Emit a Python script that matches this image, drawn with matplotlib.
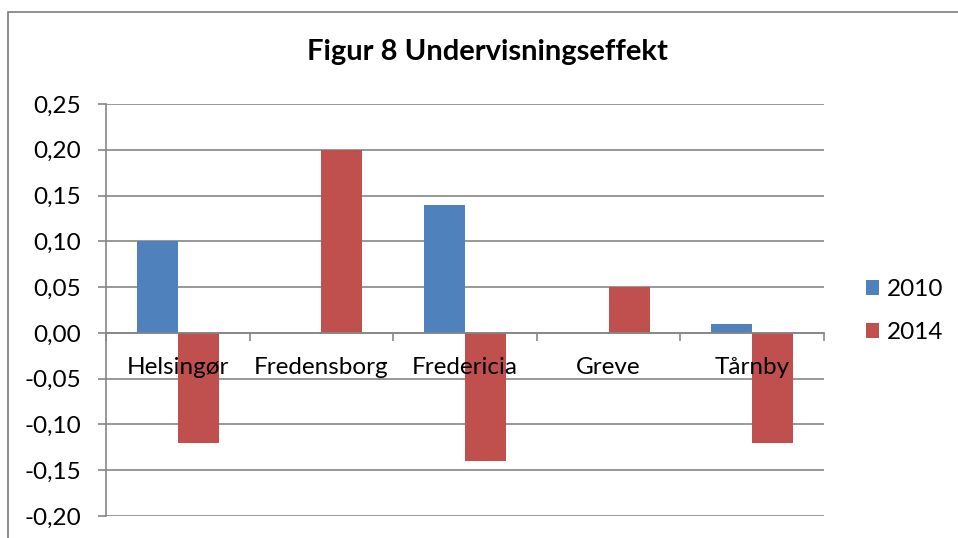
import matplotlib
matplotlib.use("Agg")
import matplotlib.pyplot as plt
from matplotlib.patches import Rectangle
import numpy as np

categories = ["Helsingør", "Fredensborg", "Fredericia", "Greve", "Tårnby"]
series_names = ["2010", "2014"]
values_2010 = [0.10, 0.0, 0.14, 0.0, 0.01]
values_2014 = [-0.12, 0.20, -0.14, 0.05, -0.12]
yticks = [-0.20, -0.15, -0.10, -0.05, 0.00, 0.05, 0.10, 0.15, 0.20, 0.25]
title = "Figur 8 Undervisningseffekt"

plt.rcParams['font.family'] = ['Lato', 'DejaVu Sans']

fig = plt.figure(figsize=(9.58, 5.38), dpi=100)
ax = fig.add_axes([106/958, 1-516/538, (824-106)/958, (516-104)/538])

grid_c = "#868686"
colors = ["#4F81BD", "#C0504D"]
x = np.arange(len(categories))
w = 0.285
ax.bar(x - w/2, values_2010, w, color=colors[0], label=series_names[0], zorder=1)
ax.bar(x + w/2, values_2014, w, color=colors[1], label=series_names[1], zorder=1)

ax.set_xlim(-0.5, len(categories) - 0.5)
ax.set_ylim(-0.20, 0.25)
ax.set_yticks(yticks)
ax.set_yticklabels([f"{v:.2f}".replace(".", ",") for v in yticks])
ax.yaxis.grid(True, color=grid_c, lw=1.2)
ax.yaxis.set_zorder(0.5)
ax.xaxis.set_zorder(3)

ax.set_xticks(np.arange(len(categories) + 1) - 0.5)
ax.set_xticklabels([])
ax.set_xticks(x, minor=True)
ax.set_xticklabels(categories, minor=True)
ax.tick_params(axis='x', which='major', length=6, color=grid_c, width=1.2, direction='out')
ax.tick_params(axis='x', which='minor', length=0, pad=17, labelsize=17.5)
ax.tick_params(axis='y', length=6, color=grid_c, width=1.2, labelsize=17.5, pad=12)

ax.spines['bottom'].set_position(('data', 0))
ax.spines['bottom'].set_color(grid_c)
ax.spines['bottom'].set_linewidth(1.2)
ax.spines['left'].set_color(grid_c)
ax.spines['left'].set_linewidth(1.2)
ax.spines['top'].set_visible(False)
ax.spines['right'].set_visible(False)

fig.text(487/958, 1-52/538, title, ha='center', va='center', fontsize=21, fontweight='bold')

ax.legend(loc='center left', bbox_to_anchor=(866/958, 1-311/538), bbox_transform=fig.transFigure,
          frameon=False, fontsize=17.5, handlelength=0.55, handleheight=0.55, handletextpad=0.3,
          labelspacing=0.9, borderpad=0, borderaxespad=0)

fig.patches.append(Rectangle((8/958, -0.05), 1.2, 1-12/538+0.05, transform=fig.transFigure,
                             fill=False, edgecolor=grid_c, lw=1.3, zorder=0))

fig.savefig("out.png", dpi=100)
